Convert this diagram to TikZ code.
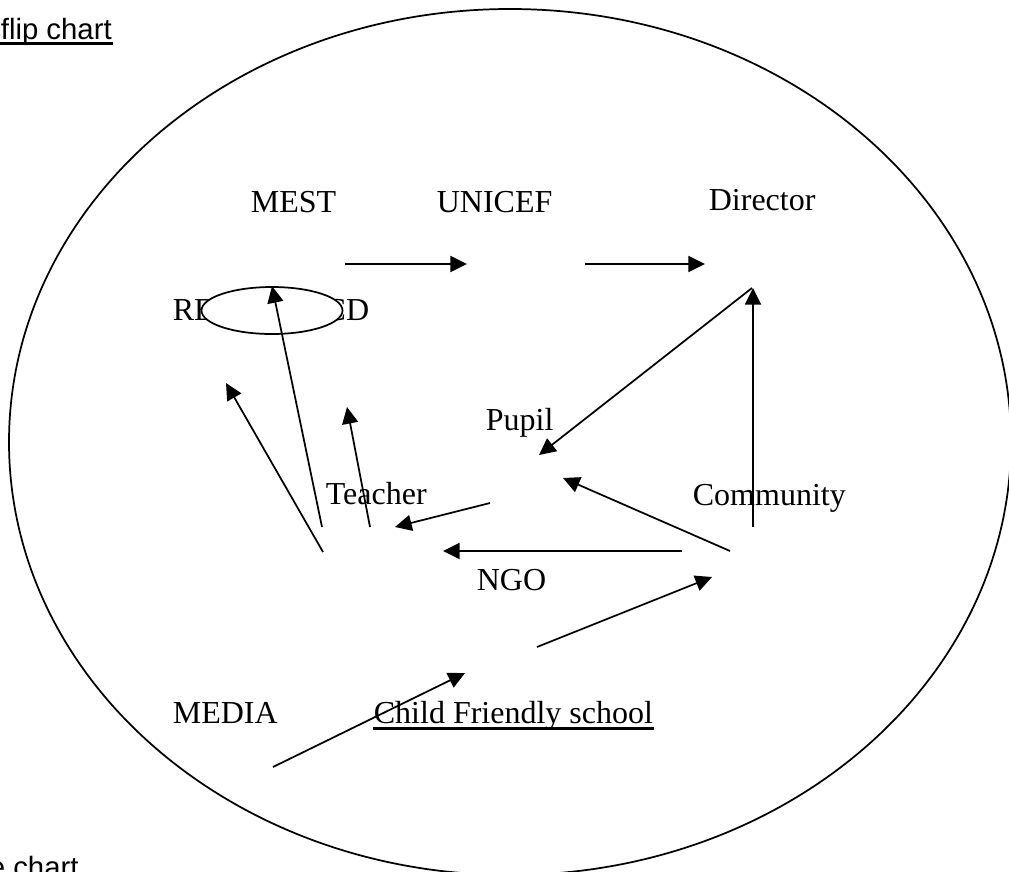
\documentclass[tikz,border=0pt]{standalone}
\usepackage{fontspec}
\setmainfont{Liberation Serif}
\newfontfamily\arialfont{Liberation Sans}
\usetikzlibrary{arrows.meta,shapes.geometric}

\begin{document}
\begin{tikzpicture}[x=0.75pt,y=-0.75pt,>={Triangle[length=12.5pt,width=12pt]},
    line width=1.3pt, line join=round,
    lbl/.style={inner sep=0pt,anchor=base west,font=\fontsize{24}{28}\selectfont},
    note/.style={inner sep=0pt,anchor=base west,font=\arialfont\fontsize{22}{26}\selectfont}]
  \useasboundingbox (0,0) rectangle (1009,871);
  \clip (0,0) rectangle (1009,871);
  % big ring
  \draw (510,442) ellipse [x radius=501,y radius=433];
  % side notes
  \node[note] (flip) at (0,39) {flip chart};
  \draw[line width=1.8pt] ([yshift=-3.5pt]flip.base west) -- ([yshift=-3.5pt]flip.base east);
  \node[note] (pie) at (-12,877) {e chart};
  % labels
  \node[lbl] (mest) at (250,212) {MEST};
  \node[lbl] (unicef) at (436,212) {UNICEF};
  \node[lbl] (dir) at (708,210) {Director};
  \node[lbl] (re) at (172,320) {RE};
  \node[lbl,anchor=base east] (cd) at (370,320) {CD};
  \node[draw,ellipse,fill=white,minimum width=105.75pt,minimum height=35.25pt] (recd) at (272,310.5) {};
  \node[lbl] (pupil) at (485,430) {Pupil};
  \node[lbl] (teach) at (325,504) {Teacher};
  \node[lbl] (com) at (692,505) {Community};
  \node[lbl] (ngo) at (476,590) {NGO};
  \node[lbl] (media) at (172,723) {MEDIA};
  \node[lbl] (cfs) at (373,723) {Child Friendly school};
  \draw[line width=1.8pt] ([yshift=-4pt]cfs.base west) -- ([yshift=-4pt]cfs.base east);
  % arrow ends
  \coordinate (mest-s) at (345,264);   \coordinate (unicef-t) at (467,264);
  \coordinate (unicef-s) at (585,264); \coordinate (dir-t) at (705,264);
  \coordinate (dir-s) at (752,288);    \coordinate (pupil-t) at (539,455);
  \coordinate (com-s) at (753,527);    \coordinate (dir-t2) at (753,288);
  \coordinate (com-s2) at (730,551);   \coordinate (pupil-t2) at (563,478);
  \coordinate (com-s3) at (682,551);   \coordinate (teach-t2) at (443,551);
  \coordinate (pupil-s) at (490,503);  \coordinate (teach-t) at (395,527);
  \coordinate (ngo-s) at (537,647);    \coordinate (com-t) at (712,577);
  \coordinate (media-s) at (273,767);  \coordinate (ngo-t) at (465,673);
  \coordinate (teach-s1) at (323,552); \coordinate (re-t) at (226,383);
  \coordinate (teach-s2) at (322,527);
  \coordinate (teach-s3) at (370,527); \coordinate (cd-t) at (347,407);
  % arrows
  \draw[->] (mest-s) -- (unicef-t);
  \draw[->] (unicef-s) -- (dir-t);
  \draw[->] (dir-s) -- (pupil-t);
  \draw[->] (com-s) -- (dir-t2);
  \draw[->] (com-s2) -- (pupil-t2);
  \draw[->] (com-s3) -- (teach-t2);
  \draw[->] (pupil-s) -- (teach-t);
  \draw[->] (ngo-s) -- (com-t);
  \draw[->] (media-s) -- (ngo-t);
  \draw[->] (teach-s1) -- (re-t);
  \draw[->] (teach-s2) -- (recd.north);
  \draw[->] (teach-s3) -- (cd-t);
\end{tikzpicture}
\end{document}
